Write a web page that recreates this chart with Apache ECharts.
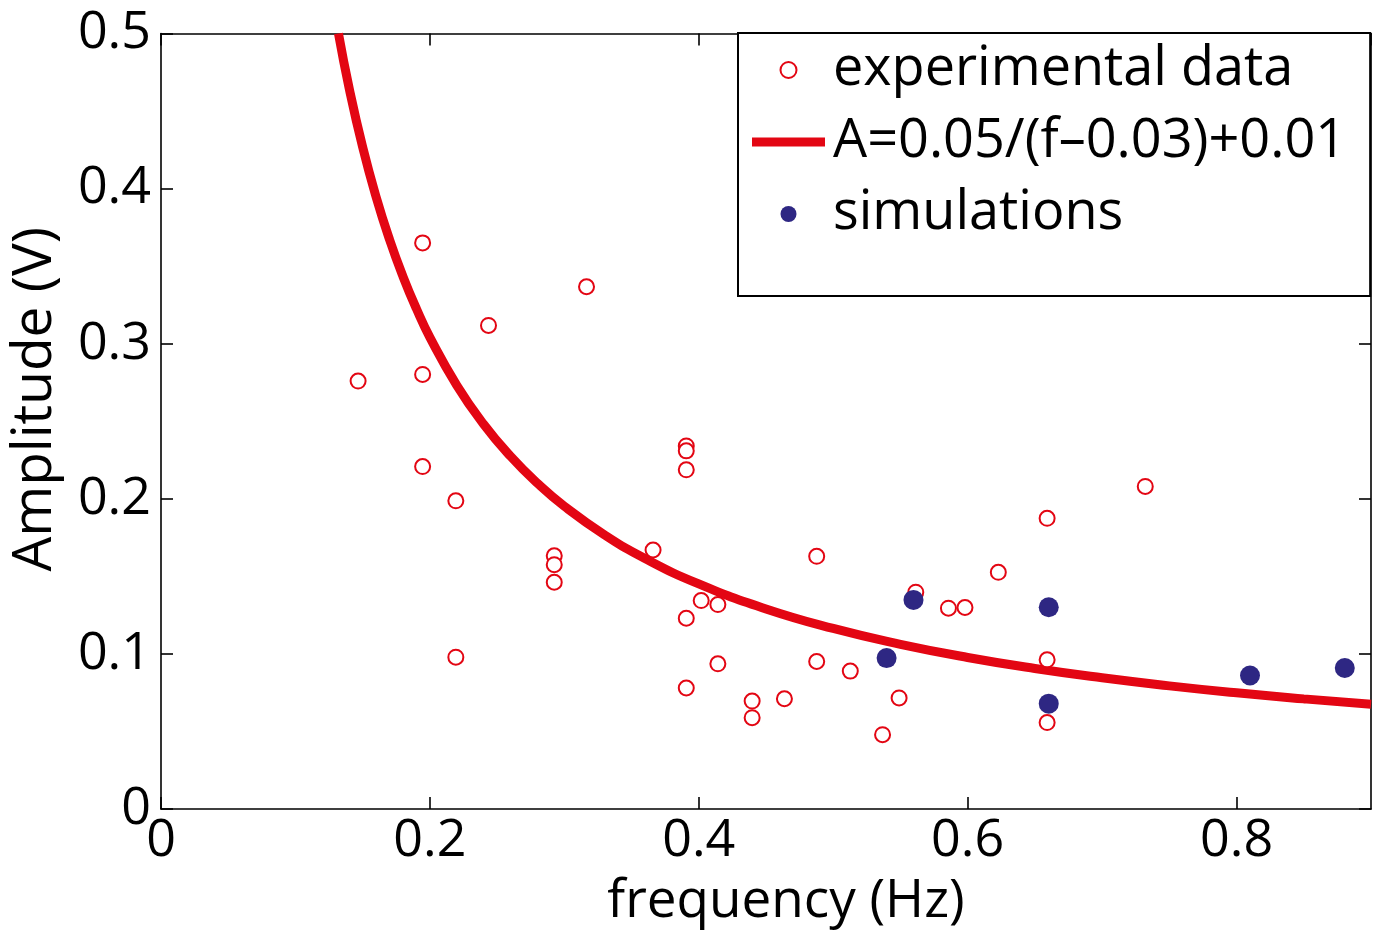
<!DOCTYPE html>
<html>
<head>
<meta charset="utf-8">
<script src="https://cdn.jsdelivr.net/npm/echarts@6/dist/echarts.min.js"></script>
<style>
html,body{margin:0;padding:0;background:#fff;}
#c{width:1384px;height:933px;}
</style>
</head>
<body>
<div id="c"></div>
<script>
// experimental data (frequency Hz, amplitude V)
var expFreq = [0.1466,0.1946,0.1946,0.1946,0.2193,0.2193,0.2436,0.3165,0.2925,0.2925,0.2925,0.366,
  0.3907,0.3907,0.3907,0.3907,0.3907,0.4018,0.4142,0.4142,0.4397,0.4397,0.4637,0.4877,0.4877,
  0.5127,0.5367,0.549,0.5614,0.5857,0.598,0.6228,0.6591,0.6591,0.6591,0.7321];
var expAmp  = [0.2759,0.3650,0.2802,0.2208,0.1987,0.0979,0.3118,0.3367,0.1633,0.1575,0.1462,0.1670,
  0.2341,0.2309,0.2187,0.1230,0.0780,0.1344,0.1318,0.0936,0.0696,0.0589,0.0711,0.1629,0.0951,
  0.0889,0.0479,0.0716,0.1398,0.1295,0.1299,0.1526,0.1874,0.0962,0.0557,0.2080];
// simulations
var simFreq = [0.5397,0.5597,0.6603,0.6603,0.8100,0.8805];
var simAmp  = [0.0973,0.1348,0.1301,0.0679,0.0861,0.0909];
// fitted curve A=0.05/(f-0.03)+0.01, values read/tabulated
var fitFreq = [0.132,0.14,0.15,0.16,0.17,0.18,0.19,0.20,0.22,0.24,0.26,0.28,0.30,0.33,0.36,0.40,0.45,0.50,0.55,0.60,0.65,0.70,0.75,0.80,0.85,0.90];
var fitAmp  = [0.500,0.4645,0.4267,0.3946,0.3671,0.3433,0.3225,0.3041,0.2732,0.2481,0.2274,0.2100,0.1952,0.1767,0.1615,0.1451,0.1290,0.1164,0.1062,0.0977,0.0906,0.0846,0.0794,0.0749,0.0710,0.0675];
var seriesNames = ['experimental data','A=0.05/(f\u20130.03)+0.01','simulations'];
var xTickLabels = ['0','0.2','0.4','0.6','0.8'];
var yTickLabels = ['0','0.1','0.2','0.3','0.4','0.5'];

function zip(a,b){var r=[];for(var i=0;i<a.length;i++)r.push([a[i],b[i]]);return r;}

var RED = '#e30613', BLUE = '#2e2783';
var FONT = 'Open Sans';
var chart = echarts.init(document.getElementById('c'), null, {renderer:'canvas'});
var axisCommon = {
  axisLine:{show:true,onZero:false,lineStyle:{color:'#000',width:1.6}},
  axisTick:{show:true,inside:true,length:12,lineStyle:{color:'#000',width:1.6}},
  splitLine:{show:false}
};
chart.setOption({
  backgroundColor:'#fff',
  animation:false,
  grid:{left:158.5,right:13,top:33.5,bottom:122.5,containLabel:false},
  xAxis:[
    Object.assign({type:'value',min:0,max:0.9,interval:0.2,position:'bottom',
      name:'frequency (Hz)',nameLocation:'middle',nameGap:66,
      nameTextStyle:{fontFamily:FONT,fontSize:53,color:'#000',padding:[0,0,0,40]},
      axisLabel:{show:true,margin:6,showMaxLabel:false,fontFamily:FONT,fontSize:52,color:'#000',
        formatter:function(v){var i=Math.round(v/0.2);return Math.abs(v-i*0.2)<1e-9?xTickLabels[i]:'';}}
    },axisCommon),
    Object.assign({type:'value',min:0,max:0.9,interval:0.2,position:'top',axisLabel:{show:false}},axisCommon)
  ],
  yAxis:[
    Object.assign({type:'value',min:0,max:0.5,interval:0.1,position:'left',
      name:'Amplitude (V)',nameLocation:'middle',nameGap:98,
      nameTextStyle:{fontFamily:FONT,fontSize:55,color:'#000',padding:[0,0,0,44]},
      axisLabel:{show:true,margin:10,fontFamily:FONT,fontSize:52,color:'#000',
        formatter:function(v){return yTickLabels[Math.round(v/0.1)];}}
    },axisCommon),
    Object.assign({type:'value',min:0,max:0.5,interval:0.1,position:'right',axisLabel:{show:false}},axisCommon)
  ],
  legend:{
    orient:'vertical',left:738,top:33,
    backgroundColor:'#fff',borderColor:'#000',borderWidth:2,
    padding:[7,24,52,14],itemGap:12,itemWidth:73,itemHeight:16,symbolKeepAspect:true,
    textStyle:{fontFamily:FONT,fontSize:54,color:'#000',lineHeight:60,padding:[0,0,0,3]},
    data:[
      {name:seriesNames[0],icon:'emptyCircle'},
      {name:seriesNames[1],icon:'path://M0,0L73,0L73,9L0,9Z',itemStyle:{color:RED,borderWidth:0}},
      {name:seriesNames[2],icon:'circle'}
    ]
  },
  series:[
    {name:seriesNames[1],type:'line',data:zip(fitFreq,fitAmp),smooth:true,symbol:'none',showSymbol:false,
      lineStyle:{color:RED,width:9},itemStyle:{color:RED},z:1,clip:true},
    {name:seriesNames[0],type:'scatter',data:zip(expFreq,expAmp),symbol:'emptyCircle',symbolSize:15,
      itemStyle:{color:RED,borderColor:RED,borderWidth:2.2,opacity:1},z:2},
    {name:seriesNames[2],type:'scatter',data:zip(simFreq,simAmp),symbol:'circle',symbolSize:20,
      itemStyle:{color:BLUE,opacity:1},z:3}
  ]
});
</script>
</body>
</html>
